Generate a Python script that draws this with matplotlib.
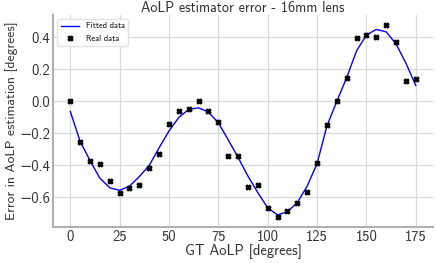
import matplotlib
matplotlib.use("Agg")
import matplotlib.pyplot as plt

gt_aolp = list(range(0, 180, 5))
real_data = [0.0, -0.256, -0.37, -0.39, -0.50, -0.57, -0.54, -0.52, -0.417, -0.33,
             -0.14, -0.06, -0.048, 0.002, -0.06, -0.13, -0.344, -0.34, -0.533, -0.525,
             -0.667, -0.725, -0.6875, -0.633, -0.569, -0.383, -0.15, 0.004, 0.148, 0.396,
             0.415, 0.40, 0.48, 0.373, 0.125, 0.14]
fitted_data = [-0.0625, -0.25, -0.37, -0.48, -0.54, -0.556, -0.53, -0.47, -0.40, -0.29,
               -0.185, -0.10, -0.05, -0.04, -0.067, -0.133, -0.24, -0.35, -0.467, -0.57,
               -0.665, -0.71, -0.69, -0.633, -0.53, -0.39, -0.154, 0.0, 0.148, 0.315,
               0.415, 0.45, 0.435, 0.36, 0.24, 0.10]
x_ticks = [0, 25, 50, 75, 100, 125, 150, 175]
y_ticks = [-0.6, -0.4, -0.2, 0.0, 0.2, 0.4]

plt.rcParams['font.family'] = ['cmss10', 'DejaVu Sans']
plt.rcParams['axes.unicode_minus'] = True

fig = plt.figure(figsize=(4.36, 2.63), dpi=100)
ax = fig.add_axes([53/436, 1-227/263, 380/436, 212/263])

ax.plot(gt_aolp, fitted_data, color='blue', lw=1.0, label='Fitted data', zorder=3)
ax.plot(gt_aolp, real_data, 'X', color='black', markersize=3.5, lw=0, label='Real data', zorder=4)

ax.set_xticks(x_ticks)
ax.set_yticks(y_ticks)
ax.grid(True, color='#d9d9d9', lw=0.9)
ax.set_axisbelow(True)
for s in ['top', 'right']:
    ax.spines[s].set_visible(False)
for s in ['left', 'bottom']:
    ax.spines[s].set_color('#b0b0b0')
    ax.spines[s].set_linewidth(1.5)
ax.tick_params(length=0, labelsize=10.5, colors='#333333', pad=2)

ax.set_title('AoLP estimator error - 16mm lens', fontsize=10.2, color='#333333', pad=1.5)
ax.set_xlabel('GT AoLP [degrees]', fontsize=10.5, color='#333333', labelpad=0)
ax.set_ylabel('Error in AoLP estimation [degrees]', fontsize=9.8, color='#333333', labelpad=1)

ax.legend(loc='upper left', fontsize=6, frameon=True, framealpha=0.9, edgecolor='#e0e0e0', handlelength=2.2)

fig.savefig('out.png', dpi=100)
